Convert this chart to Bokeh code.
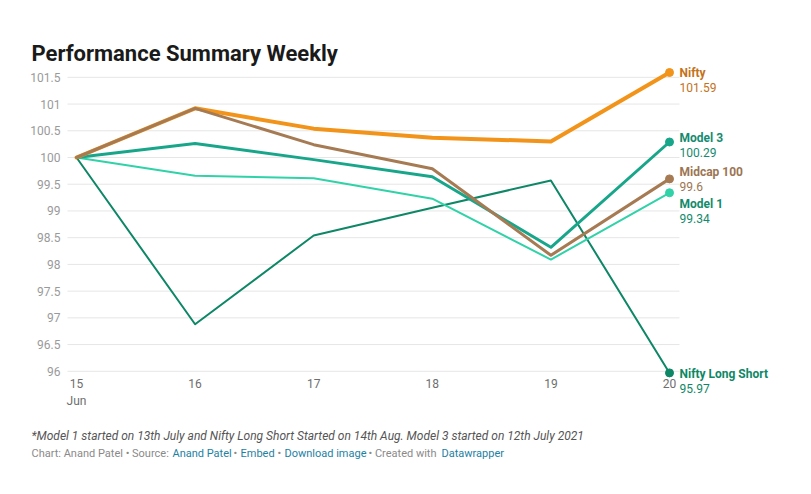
from bokeh.plotting import figure
from bokeh.models import Range1d
from bokeh.core.properties import value
from bokeh.embed import file_html
from bokeh.resources import INLINE

# ---- data ----
weeks = [15, 16, 17, 18, 19, 20]
nifty = [100.0, 100.92, 100.54, 100.37, 100.30, 101.59]
midcap = [100.0, 100.92, 100.24, 99.79, 98.17, 99.60]
model3 = [100.0, 100.26, 99.96, 99.64, 98.32, 100.29]
model1 = [100.0, 99.66, 99.61, 99.23, 98.09, 99.34]
long_short = [100.0, 96.88, 98.54, 99.06, 99.57, 95.97]
y_ticks = [96, 96.5, 97, 97.5, 98, 98.5, 99, 99.5, 100, 100.5, 101, 101.5]
y_tick_labels = ["96", "96.5", "97", "97.5", "98", "98.5", "99", "99.5", "100", "100.5", "101", "101.5"]
x_tick_labels = ["15", "16", "17", "18", "19", "20"]
x_sub_label = "Jun"

title_text = "Performance Summary Weekly"
note_text = "*Model 1 started on 13th July and Nifty Long Short Started on 14th Aug. Model 3 started on 12th July 2021"

FONT = "Roboto"
W, H = 795, 478

# pixel <-> data mapping (frame covers the whole canvas)
PX_X15, PX_PER_X = 76.0, 118.6
PY_Y100, PY_PER_Y = 157.0, 53.45
x_start = 15 - PX_X15 / PX_PER_X
y_top = 100 + PY_Y100 / PY_PER_Y

def X(px):
    return x_start + px / PX_PER_X

def Y(py):
    return y_top - py / PY_PER_Y

p = figure(width=W, height=H, output_backend="svg", toolbar_location=None,
           x_range=Range1d(X(0), X(W)), y_range=Range1d(Y(H), Y(0)),
           x_axis_type=None, y_axis_type=None, min_border=0)
p.outline_line_color = None
p.background_fill_color = "white"
p.border_fill_color = "white"
p.grid.visible = False

# grid lines
p.segment(x0=[X(67)] * len(y_ticks), x1=[X(679)] * len(y_ticks), y0=y_ticks, y1=y_ticks,
          line_color="#e6e6e6", line_width=1)

# y tick labels
p.text(x=[X(60)] * len(y_ticks), y=y_ticks, text=y_tick_labels, text_align="right",
       text_baseline="middle", text_font=value(FONT), text_font_size="12px", text_color="#9a9a9a")
# x tick labels
p.text(x=weeks, y=[Y(383)] * len(weeks), text=x_tick_labels, text_align="center",
       text_baseline="middle", text_font=value(FONT), text_font_size="12px", text_color="#6e6e6e")
p.text(x=[weeks[0]], y=[Y(400)], text=[x_sub_label], text_align="center",
       text_baseline="middle", text_font=value(FONT), text_font_size="12px", text_color="#6e6e6e")

series = [
    ("Nifty Long Short", long_short, "#0e8766", 2, "#0e8766", 1),
    ("Model 1", model1, "#30d2a8", 2, "#138a6c", 11),
    ("Model 3", model3, "#18a68b", 3, "#168a70", -4),
    ("Nifty", nifty, "#f2941a", 4, "#c4721a", 0),
    ("Midcap 100", midcap, "#a67b54", 3, "#9c7553", -7),
]

for name, vals, col, lw, lab_col, dy in series:
    p.line(weeks, vals, line_color=col, line_width=lw, line_join="round", line_cap="round")
    p.scatter([weeks[-1]], [vals[-1]], size=8, fill_color=col, line_color=col)

for name, vals, col, lw, lab_col, dy in series:
    p.text(x=[weeks[-1]], y=[vals[-1]], text=[name], x_offset=10, y_offset=dy,
           text_font=value(FONT), text_font_size="12px", text_font_style="bold",
           text_color=lab_col, text_baseline="middle")
    p.text(x=[weeks[-1]], y=[vals[-1]], text=[f"{vals[-1]:g}"], x_offset=10, y_offset=dy + 15,
           text_font=value(FONT), text_font_size="12px",
           text_color=lab_col, text_baseline="middle")

def stext(px, py, text, size, color, style="normal", baseline="middle"):
    p.text(x=[X(px)], y=[Y(py)], text=[text], text_font=value(FONT), text_font_size=size,
           text_font_style=style, text_color=color, text_baseline=baseline, text_align="left")

stext(31, 52.5, title_text, "22px", "#1a1a1a", "bold", "alphabetic")
stext(31, 435, note_text, "12px", "#555555", "italic")
footer = [
    (31, "Chart: Anand Patel \u2022 Source:", "#8a8a8a"),
    (172, "Anand Patel", "#1d81a2"),
    (233, "\u2022", "#8a8a8a"),
    (240, "Embed", "#1d81a2"),
    (277, "\u2022", "#8a8a8a"),
    (284, "Download image", "#1d81a2"),
    (368, "\u2022 Created with", "#8a8a8a"),
    (441, "Datawrapper", "#1d81a2"),
]
for sx, t, c in footer:
    stext(sx, 453, t, "11px", c)

open("out.html", "w").write(file_html(p, INLINE))
